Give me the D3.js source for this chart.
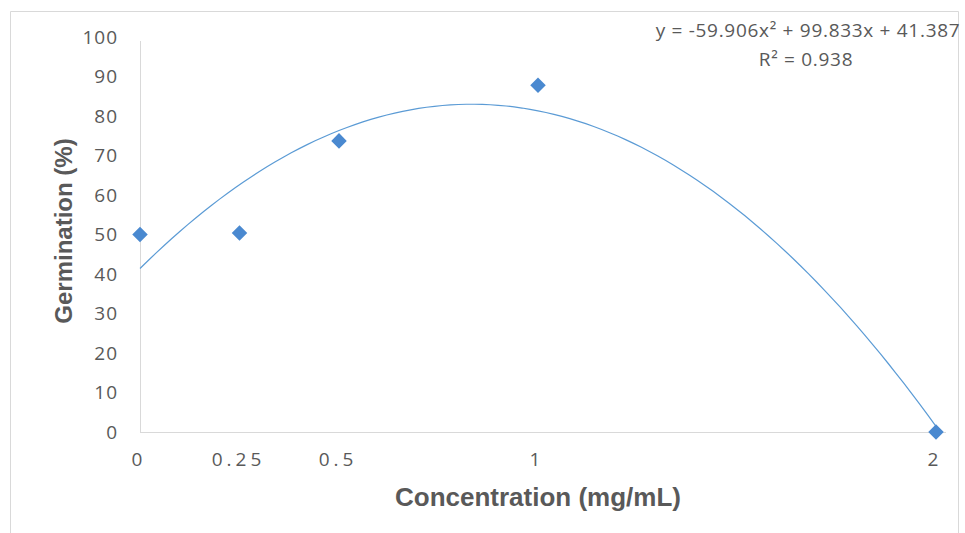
<!DOCTYPE html>
<html lang="en">
<head>
    <meta charset="UTF-8">
    <title>Germination vs Concentration</title>
    <script src="https://d3js.org/d3.v7.min.js"></script>
    <style>
        body { margin: 0; background: #fff; }
        text { font-family: "Open Sans", "Liberation Sans", sans-serif; fill: #595959; }
    </style>
</head>
<body>
    <svg id="chart" width="965" height="533"></svg>

    <script>
        // Data
        const concentration = [0, 0.25, 0.5, 1, 2];
        const germination = [50, 50.4, 73.7, 87.8, 0];
        const xTicks = [0, 0.25, 0.5, 1, 2];
        const yTicks = [0, 10, 20, 30, 40, 50, 60, 70, 80, 90, 100];
        // polynomial trendline shown on the chart
        const trendCoef = [-59.906, 99.833, 41.387];
        const trendLabel = "y = -59.906x² + 99.833x + 41.387";
        const r2Label = "R² = 0.938";

        const svg = d3.select("#chart");

        // frame
        svg.append("path")
            .attr("d", "M10.5,533 V11.5 H958.5 V533")
            .attr("fill", "none")
            .attr("stroke", "#d9d9d9");

        const x = d3.scaleLinear().domain([0, 2]).range([140, 936]);
        const y = d3.scaleLinear().domain([0, 100]).range([432, 37]);

        // axes lines
        svg.append("line")
            .attr("x1", x(0)).attr("x2", x(2) + 10)
            .attr("y1", y(0) + 0.5).attr("y2", y(0) + 0.5)
            .attr("stroke", "#d9d9d9");
        svg.append("line")
            .attr("x1", x(0) + 0.5).attr("x2", x(0) + 0.5)
            .attr("y1", y(100) + 4).attr("y2", y(0))
            .attr("stroke", "#d9d9d9");

        // y tick labels
        svg.append("g").selectAll("text")
            .data(yTicks)
            .join("text")
            .attr("x", 118)
            .attr("y", d => y(d))
            .attr("dy", "0.35em")
            .attr("text-anchor", "end")
            .attr("font-size", 19)
            .attr("letter-spacing", "1px")
            .text(d => d);

        // x tick labels
        svg.append("g").selectAll("text")
            .data(xTicks)
            .join("text")
            .attr("x", d => x(d) - 1)
            .attr("y", 466)
            .attr("text-anchor", "middle")
            .attr("font-size", 19)
            .attr("letter-spacing", "4px")
            .text(d => d);

        // axis titles
        svg.append("text")
            .attr("x", 538)
            .attr("y", 506)
            .attr("text-anchor", "middle")
            .attr("font-size", 26)
            .attr("font-weight", "bold")
            .style("font-family", "'Liberation Sans', Arial, sans-serif")
            .text("Concentration (mg/mL)");

        svg.append("text")
            .attr("transform", "translate(72,231) rotate(-90)")
            .attr("text-anchor", "middle")
            .attr("font-size", 24)
            .attr("font-weight", "bold")
            .style("font-family", "'Liberation Sans', Arial, sans-serif")
            .text("Germination (%)");

        // trendline
        const trend = t => trendCoef[0] * t * t + trendCoef[1] * t + trendCoef[2];
        const trendX = d3.range(0, 2.0001, 0.02);
        svg.append("path")
            .datum(trendX)
            .attr("fill", "none")
            .attr("stroke", "#5b9bd5")
            .attr("stroke-width", 1.2)
            .attr("d", d3.line().x(d => x(d)).y(d => y(trend(d))));

        // markers
        svg.append("g").selectAll("path")
            .data(concentration)
            .join("path")
            .attr("transform", (d, i) => `translate(${x(d)},${y(germination[i])}) rotate(45)`)
            .attr("d", "M-5.5,-5.5 H5.5 V5.5 H-5.5 Z")
            .attr("fill", "#4a89d0");

        // trendline label
        svg.append("text")
            .attr("x", 808)
            .attr("y", 37)
            .attr("text-anchor", "middle")
            .attr("font-size", 19)
            .attr("letter-spacing", "0.7px")
            .text(trendLabel);
        svg.append("text")
            .attr("x", 806)
            .attr("y", 66)
            .attr("text-anchor", "middle")
            .attr("font-size", 19)
            .attr("letter-spacing", "0.7px")
            .text(r2Label);
    </script>
</body>
</html>
